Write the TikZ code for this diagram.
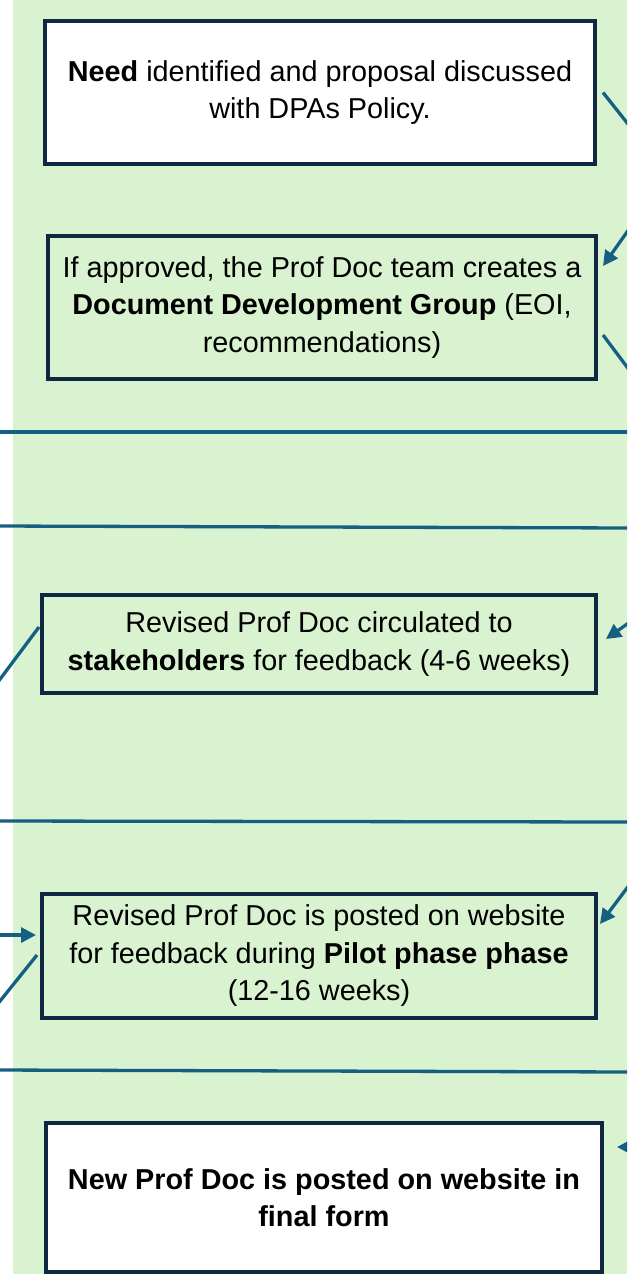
\documentclass[tikz,border=0pt]{standalone}
\usepackage{fontspec}
\setmainfont{Liberation Sans}
\usepackage{tikz}
\usepackage{xcolor}
\usetikzlibrary{arrows.meta}

% colours picked off the slide
\definecolor{bggreen}{HTML}{D9F2D0}
\definecolor{boxnavy}{HTML}{0E2841}
\definecolor{flowblue}{HTML}{156082}

\tikzset{
	stagebox/.style={draw=boxnavy, line width=3.5pt, align=center,
	  inner sep=0pt, outer sep=0pt,
	  font=\fontsize{28.8}{37.5}\selectfont},
	flowline/.style={draw=flowblue, line width=3.3pt},
	flowarrow/.style={flowline, -{Triangle[length=15pt,width=15pt]}},
}

\begin{document}
\begin{tikzpicture}[x=1pt, y=-1pt]
% the slide is only a slice of a bigger flow chart, so
% everything that runs off the page is just clipped away
\useasboundingbox (0,0) rectangle (627,1274);
\clip (0,0) rectangle (627,1274);
\fill[bggreen] (12.7,0) rectangle (627,1274);

% the stages, top to bottom
\node[stagebox, fill=white, minimum width=550pt, minimum height=143pt] (need) at (320,92.5)
	{\textbf{Need} identified and proposal discussed\\with DPAs Policy.};
\node[stagebox, minimum width=548pt, minimum height=143pt] (ddg) at (322,307.5)
	{If approved, the Prof Doc team creates a\\\textbf{Document Development Group} (EOI,\\recommendations)};
\node[stagebox, minimum width=554pt, minimum height=98pt] (circ) at (319,644)
	{Revised Prof Doc circulated to\\\textbf{stakeholders} for feedback (4-6 weeks)};
\node[stagebox, minimum width=554pt, minimum height=124pt] (pilot) at (319,956)
	{Revised Prof Doc is posted on website\\for feedback during \textbf{Pilot phase phase}\\(12-16 weeks)};
\node[stagebox, fill=white, minimum width=556pt, minimum height=149pt] (final) at (324,1197.5)
	{\bfseries New Prof Doc is posted on website in\\\bfseries final form};

% loose ends of the connectors (outside the slice)
\coordinate (needout) at (651,153);
\coordinate (ddgin) at (651,198);
\coordinate (ddgout) at (651,399);
\coordinate (circout) at (-20,706);
\coordinate (circin) at (651,607);
\coordinate (pilotin) at (-20,935);
\coordinate (pilotout) at (-20,1026);
\coordinate (pilotback) at (651,856);
\coordinate (finalin) at (660,1147);

\draw[flowline] ([xshift=8pt]need.east) -- (needout);
\draw[flowarrow] (ddgin) -- ([shift={(7pt,41.5pt)}]ddg.east);
\draw[flowline] ([shift={(7pt,-27.5pt)}]ddg.east) -- (ddgout);
\draw[flowline] ([shift={(-3pt,17pt)}]circ.west) -- (circout);
\draw[flowarrow] (circin) -- ([shift={(10pt,5pt)}]circ.east);
\draw[flowarrow] (pilotin) -- ([shift={(-6pt,21pt)}]pilot.west);
\draw[flowline] ([shift={(-5pt,1pt)}]pilot.west) -- (pilotout);
\draw[flowarrow] (pilotback) -- ([shift={(4pt,32pt)}]pilot.east);
\draw[flowarrow] (finalin) -- ([shift={(15pt,50.5pt)}]final.east);

% the long lines that cross the whole slice
\foreach \ya/\yb [count=\i] in {432/432, 526/528, 821/822, 1070/1072} {
	\coordinate (cross\i w) at (-5,\ya);
	\coordinate (cross\i e) at (632,\yb);
	\draw[flowline] (cross\i w) -- (cross\i e);
}
\end{tikzpicture}
\end{document}
